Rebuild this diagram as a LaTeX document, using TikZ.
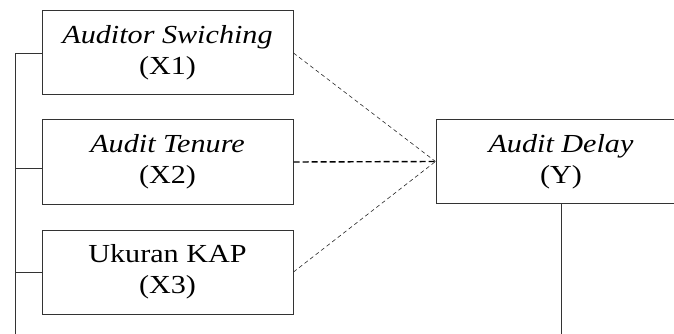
\documentclass[tikz,border=0pt]{standalone}
\usepackage{fontspec}
\setmainfont[FakeStretch=1.16]{Liberation Serif}
\usetikzlibrary{positioning}

\begin{document}
\begin{tikzpicture}[x=1pt,y=-1pt,
  box/.style={rectangle,draw=black!80,line width=1pt,fill=white,
              minimum width=251pt,minimum height=84pt,inner sep=0pt,
              align=center,font=\fontsize{26}{31}\selectfont},
  link/.style={black!80,line width=0.9pt},
  thindash/.style={black!85,line width=0.6pt,dash pattern=on 4pt off 3pt},
  thickdash/.style={black,line width=1.4pt,dash pattern=on 6pt off 3pt}
]
\useasboundingbox (0,0) rectangle (674,334);
\node[box] (x1) at (167.5,53) {\textit{Auditor Swiching}\\(X1)};
\node[box,below=24pt of x1] (x2) {\textit{Audit Tenure}\\(X2)};
\node[box,below=25pt of x2] (x3) {Ukuran KAP\\(X3)};
\node[box,minimum width=250pt] (y) at (561,161.5) {\textit{Audit Delay}\\(Y)};
\coordinate (spine) at (15,334);
% garis kiri
\draw[link] (x1.west) -| (spine);
\draw[link] ([yshift=-6pt]x2.west) -- ([yshift=-6pt]x2.west -| spine);
\draw[link] (x3.west) -- (x3.west -| spine);
\draw[link] (y.south) -- (y.south |- spine);
% garis putus-putus
\draw[thindash] (x1.east) -- (y.west);
\draw[thickdash] (x2.east) -- (y.west);
\draw[thindash] (x3.east) -- (y.west);
\end{tikzpicture}
\end{document}
